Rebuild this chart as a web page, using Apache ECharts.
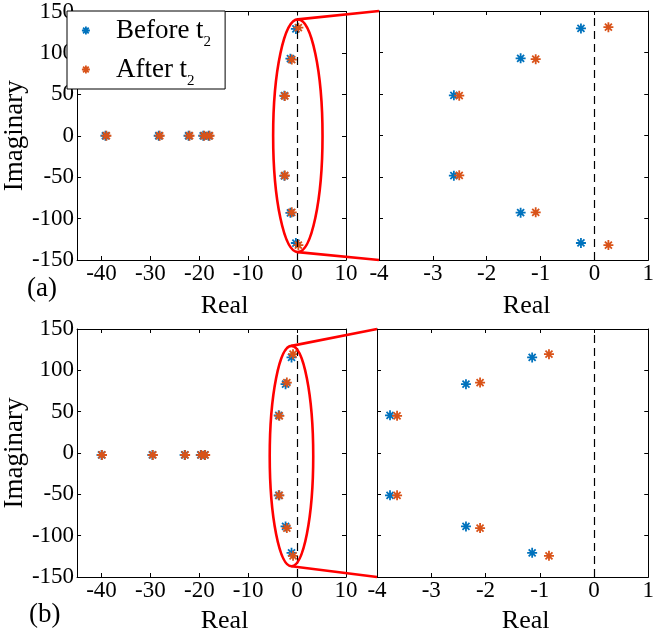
<!DOCTYPE html>
<html>
<head>
<meta charset="utf-8">
<script src="https://cdn.jsdelivr.net/npm/echarts@6/dist/echarts.min.js"></script>
<style>
  html, body { margin: 0; padding: 0; background: #ffffff; }
  #chart { width: 657px; height: 635px; }
</style>
</head>
<body>
<div id="chart"></div>
<script>
// ---- eigenvalue locations (real part, imaginary part) ----
// case (a)
const beforeA_re = [-39.2, -28.3, -22.2, -19.2, -18.1, -2.61, -2.61, -1.37, -1.37, -0.25, -0.25];
const beforeA_im = [0, 0, 0, 0, 0, 48.4, -48.4, 93.0, -93.0, 129.0, -129.5];
const afterA_re  = [-39.0, -28.1, -22.0, -19.0, -17.9, -2.51, -2.51, -1.09, -1.09, 0.26, 0.26];
const afterA_im  = [0, 0, 0, 0, 0, 48.0, -48.0, 92.0, -92.5, 130.5, -132.0];
// case (b)
const beforeB_re = [-40.0, -29.6, -23.0, -19.7, -18.9, -3.76, -3.76, -2.36, -2.36, -1.14, -1.14];
const beforeB_im = [-2.4, -2.4, -2.4, -2.4, -2.4, 45.6, -51.2, 83.2, -88.8, 115.6, -120.8];
const afterB_re  = [-39.9, -29.5, -22.9, -19.6, -18.8, -3.63, -3.63, -2.10, -2.10, -0.83, -0.83];
const afterB_im  = [-2.4, -2.4, -2.4, -2.4, -2.4, 45.0, -51.2, 85.2, -90.8, 119.6, -124.4];

// ---- axis ranges and ticks ----
const wideRange = [-45, 10];
const wideTicks = [-40, -30, -20, -10, 0, 10];
const zoomRange = [-4, 1];
const imagRange = [-150, 150];

// ---- zoom-region ellipses in the wide panels: [centre re, centre im, half-width, half-height] ----
const zoomEllipseA = [0.15, 0, 5.05, 140.5];
const zoomEllipseB = [-1.15, -3.7, 4.45, 133.3];

const SERIF = "'Times New Roman', 'Liberation Serif', serif";
const BLUE = '#0072BD';
const ORANGE = '#D95319';
const STAR = 'path://M5,0L5,10M0,5L10,5M1.5,1.5L8.5,8.5M1.5,8.5L8.5,1.5';

const chart = echarts.init(document.getElementById('chart'), null, { renderer: 'canvas' });

const grids = [
  { left: 67,  top: 11,  width: 279, height: 249 },
  { left: 379, top: 11,  width: 277, height: 249 },
  { left: 66,  top: 329, width: 280, height: 250 },
  { left: 377, top: 329, width: 279, height: 250 }
];

const lineBlack = { show: true, onZero: false, lineStyle: { color: '#000', width: 1 } };
const tickIn = { show: true, inside: true, length: 4, lineStyle: { color: '#000', width: 1 } };

function xAxes(gridIndex, wide, nameGap) {
  const base = {
    type: 'value', gridIndex: gridIndex,
    min: wide ? wideRange[0] : zoomRange[0],
    max: wide ? wideRange[1] : zoomRange[1],
    axisLine: lineBlack, splitLine: { show: false }
  };
  if (!wide) base.interval = 1;
  const bottom = Object.assign({}, base, {
    position: 'bottom',
    axisTick: wide ? Object.assign({}, tickIn, { customValues: wideTicks }) : tickIn,
    axisLabel: Object.assign({ color: '#000', fontFamily: SERIF, fontSize: 23, margin: 2 },
      wide ? { customValues: wideTicks } : {}),
    name: 'Real', nameLocation: 'middle', nameGap: nameGap,
    nameTextStyle: { color: '#000', fontFamily: SERIF, fontSize: 26, padding: [0, 0, 0, 26] }
  });
  const top = Object.assign({}, base, {
    position: 'top',
    axisTick: wide ? Object.assign({}, tickIn, { customValues: wideTicks }) : tickIn,
    axisLabel: { show: false }
  });
  return [bottom, top];
}

function yAxes(gridIndex, labelled) {
  const base = {
    type: 'value', gridIndex: gridIndex,
    min: imagRange[0], max: imagRange[1], interval: 50,
    axisLine: lineBlack, axisTick: tickIn, splitLine: { show: false }
  };
  const left = Object.assign({}, base, {
    position: 'left',
    axisLabel: labelled
      ? { color: '#000', fontFamily: SERIF, fontSize: 23, margin: 3 }
      : { show: false }
  });
  if (labelled) {
    Object.assign(left, {
      name: 'Imaginary', nameLocation: 'middle', nameGap: 42,
      nameTextStyle: { color: '#000', fontFamily: SERIF, fontSize: 27 }
    });
  }
  const right = Object.assign({}, base, { position: 'right', axisLabel: { show: false } });
  return [left, right];
}

function zip(re, im) { return re.map((r, i) => [r, im[i]]); }

function starStyle(color) {
  return { color: color, borderColor: color, borderWidth: 1.8, opacity: 1 };
}

function starSeries(name, color, re, im, panel, withAxisLine) {
  const s = {
    type: 'scatter', name: name,
    xAxisIndex: panel * 2, yAxisIndex: panel * 2,
    data: zip(re, im),
    symbol: STAR, symbolSize: 10,
    itemStyle: starStyle(color),
    emphasis: { disabled: true },
    silent: true
  };
  if (withAxisLine) {
    // dashed line along the imaginary axis
    s.markLine = {
      silent: true, symbol: ['none', 'none'], label: { show: false },
      lineStyle: { color: '#000', width: 1.2, type: [8, 5] },
      data: [{ xAxis: 0 }]
    };
  }
  return s;
}

const option = {
  animation: false,
  backgroundColor: '#fff',
  grid: grids,
  xAxis: [].concat(xAxes(0, true, 33), xAxes(1, false, 33), xAxes(2, true, 31), xAxes(3, false, 31)),
  yAxis: [].concat(yAxes(0, true), yAxes(1, false), yAxes(2, true), yAxes(3, false)),
  legend: {
    data: [
      { name: 'Before', icon: STAR, itemStyle: starStyle(BLUE) },
      { name: 'After', icon: STAR, itemStyle: starStyle(ORANGE) }
    ],
    orient: 'vertical', left: 67, top: 11,
    padding: [0, 14, 0, 14], itemGap: 0,
    itemWidth: 26, itemHeight: 8,
    backgroundColor: '#fff', borderColor: '#000', borderWidth: 1,
    selectedMode: false,
    formatter: n => '{m|' + n + ' t}{s|2}',
    textStyle: {
      fontSize: 27, fontFamily: SERIF, color: '#000',
      rich: {
        m: { fontSize: 27, fontFamily: SERIF, color: '#000', lineHeight: 27, padding: [0, 0, 0, 12] },
        s: { fontSize: 15, fontFamily: SERIF, color: '#000', lineHeight: 15, padding: [24, 0, 0, 0] }
      }
    }
  },
  series: [
    starSeries('Before', BLUE, beforeA_re, beforeA_im, 0, true),
    starSeries('After', ORANGE, afterA_re, afterA_im, 0, false),
    starSeries('Before', BLUE, beforeA_re, beforeA_im, 1, true),
    starSeries('After', ORANGE, afterA_re, afterA_im, 1, false),
    starSeries('Before', BLUE, beforeB_re, beforeB_im, 2, true),
    starSeries('After', ORANGE, afterB_re, afterB_im, 2, false),
    starSeries('Before', BLUE, beforeB_re, beforeB_im, 3, true),
    starSeries('After', ORANGE, afterB_re, afterB_im, 3, false)
  ]
};
chart.setOption(option);

// ---- zoom ellipse and connector lines, placed through the axes ----
function toPx(gridIndex, x, y) { return chart.convertToPixel({ gridIndex: gridIndex }, [x, y]); }

function zoomMarks(wideGrid, zoomGrid, e) {
  const [cx, cy, hw, hh] = e;
  const c = toPx(wideGrid, cx, cy);
  const rx = toPx(wideGrid, cx + hw, cy)[0] - c[0];
  const ry = c[1] - toPx(wideGrid, cx, cy + hh)[1];
  const topPt = toPx(wideGrid, cx, cy + hh);
  const botPt = toPx(wideGrid, cx, cy - hh);
  const cornerTop = toPx(zoomGrid, zoomRange[0], imagRange[1]);
  const cornerBot = toPx(zoomGrid, zoomRange[0], imagRange[0]);
  const red = { stroke: '#ff0000', lineWidth: 2.6, fill: null };
  return [
    { type: 'ellipse', z: 50, silent: true, shape: { cx: c[0], cy: c[1], rx: rx, ry: ry }, style: red },
    { type: 'line', z: 50, silent: true,
      shape: { x1: topPt[0], y1: topPt[1], x2: cornerTop[0], y2: cornerTop[1] }, style: red },
    { type: 'line', z: 50, silent: true,
      shape: { x1: botPt[0], y1: botPt[1], x2: cornerBot[0], y2: cornerBot[1] }, style: red }
  ];
}

const panelTag = (txt, x, y) => ({
  type: 'text', left: x, top: y, silent: true,
  style: { text: txt, fill: '#000', font: '27px ' + SERIF }
});

chart.setOption({
  graphic: [].concat(
    zoomMarks(0, 1, zoomEllipseA),
    zoomMarks(2, 3, zoomEllipseB),
    [panelTag('(a)', 27, 275), panelTag('(b)', 29, 601)]
  )
});
</script>
</body>
</html>
